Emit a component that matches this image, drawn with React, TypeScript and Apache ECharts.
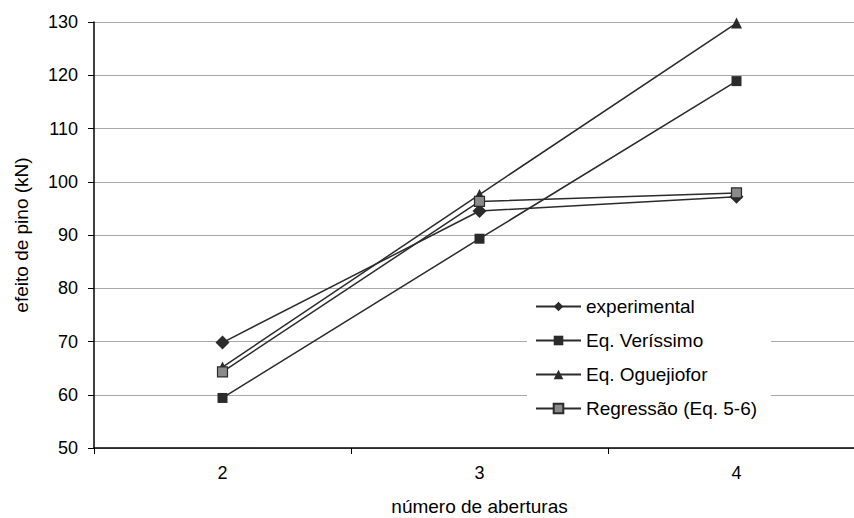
import React, { useEffect, useRef } from "react";
import * as echarts from "echarts";

const categories = ["2", "3", "4"];
const experimental = [69.8, 94.5, 97.2];
const verissimo = [59.4, 89.3, 118.9];
const oguejiofor = [65.2, 97.6, 129.8];
const regressao = [64.3, 96.3, 97.9];
const seriesNames = ["experimental", "Eq. Veríssimo", "Eq. Oguejiofor", "Regressão (Eq. 5-6)"];

const FONT = "Liberation Sans, Arial, sans-serif";

export default function App() {
  const ref = useRef<HTMLDivElement>(null);
  useEffect(() => {
    if (!ref.current) return;
    const chart = echarts.init(ref.current, undefined, { renderer: "svg" });
    const lineStyle = { color: "#2b2b2b", width: 1.5 };
    chart.setOption({
      animation: false,
      backgroundColor: "#fff",
      textStyle: { fontFamily: FONT },
      grid: {
        left: 94,
        top: 22,
        width: 771,
        height: 426,
        containLabel: false,
        outerBoundsMode: "none",
      },
      legend: {
        orient: "vertical",
        left: 527,
        top: 290,
        padding: [7, 14, 8, 8],
        backgroundColor: "#fff",
        itemWidth: 45,
        itemHeight: 12,
        itemGap: 15,
        textStyle: { fontFamily: FONT, fontSize: 19, color: "#000" },
        data: seriesNames,
      },
      xAxis: {
        type: "category",
        data: categories,
        boundaryGap: true,
        name: "número de aberturas",
        nameLocation: "middle",
        nameGap: 49,
        nameTextStyle: { fontFamily: FONT, fontSize: 19, color: "#000" },
        axisLine: { lineStyle: { color: "#000", width: 1.5 } },
        axisTick: { show: true, length: 6, lineStyle: { color: "#000" } },
        axisLabel: { fontFamily: FONT, fontSize: 18, color: "#000", margin: 16 },
        splitLine: { show: false },
      },
      yAxis: {
        type: "value",
        min: 50,
        max: 130,
        interval: 10,
        name: "efeito de pino (kN)",
        nameLocation: "middle",
        nameGap: 63,
        nameTextStyle: { fontFamily: FONT, fontSize: 19, color: "#000" },
        axisLine: { show: true, lineStyle: { color: "#000", width: 1.5 } },
        axisTick: { show: true, length: 6, lineStyle: { color: "#000" } },
        axisLabel: { fontFamily: FONT, fontSize: 18, color: "#000", margin: 16 },
        splitLine: { show: true, lineStyle: { color: "#a8a8a8", width: 1.2 } },
      },
      series: [
        {
          name: seriesNames[0],
          type: "line",
          data: experimental,
          symbol: "diamond",
          symbolSize: 14,
          lineStyle,
          itemStyle: { color: "#2b2b2b" },
          z: 4,
        },
        {
          name: seriesNames[1],
          type: "line",
          data: verissimo,
          symbol: "rect",
          symbolSize: 10,
          lineStyle,
          itemStyle: { color: "#2b2b2b" },
        },
        {
          name: seriesNames[2],
          type: "line",
          data: oguejiofor,
          symbol: "triangle",
          symbolSize: 11,
          lineStyle,
          itemStyle: { color: "#2b2b2b" },
        },
        {
          name: seriesNames[3],
          type: "line",
          data: regressao,
          symbol: "rect",
          symbolSize: 10,
          lineStyle,
          itemStyle: { color: "#8a8a8a", borderColor: "#2b2b2b", borderWidth: 1.2 },
          z: 5,
        },
      ],
    });
    return () => chart.dispose();
  }, []);
  return (
    <div
      ref={ref}
      style={{ position: "fixed", left: 0, top: 0, width: 854, height: 518, background: "#fff" }}
    />
  );
}
